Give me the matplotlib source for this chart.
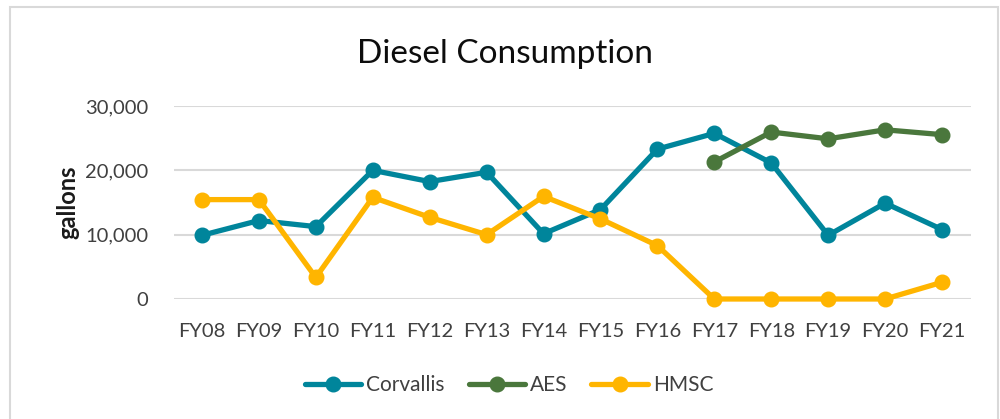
import matplotlib
matplotlib.use("Agg")
import matplotlib.pyplot as plt
from matplotlib.patches import Rectangle
from matplotlib.ticker import FuncFormatter
import numpy as np

years = ["FY08", "FY09", "FY10", "FY11", "FY12", "FY13", "FY14",
         "FY15", "FY16", "FY17", "FY18", "FY19", "FY20", "FY21"]
corvallis = [9900, 12200, 11250, 20000, 18250, 19700, 10150,
             13900, 23300, 25750, 21150, 9900, 14900, 10800]
aes = [None, None, None, None, None, None, None,
       None, None, 21300, 25950, 24900, 26300, 25550]
hmsc = [15450, 15450, 3350, 15800, 12700, 10000, 15950,
        12450, 8300, 0, 0, 0, 0, 2600]

series_names = ["Corvallis", "AES", "HMSC"]
series_colors = ["#00859B", "#4A773C", "#FFB500"]

plt.rcParams['font.family'] = ['Lato', 'DejaVu Sans']

fig = plt.figure(figsize=(10, 4.19), dpi=100)
ax = fig.add_axes([0.1735, 0.2864, 0.797, 0.4606])

x = np.arange(len(years))
for name, vals, col in zip(series_names, [corvallis, aes, hmsc], series_colors):
    y = np.array([np.nan if v is None else v for v in vals], dtype=float)
    ax.plot(x, y, color=col, lw=3.8, marker='o', markersize=10.5,
            label=name, solid_capstyle='round', zorder=3, clip_on=False)

ax.set_xlim(-0.5, len(years) - 0.5)
ax.set_ylim(0, 30000)
ax.set_yticks([0, 10000, 20000, 30000])
ax.yaxis.set_major_formatter(FuncFormatter(lambda v, p: f"{int(v):,}"))
ax.set_xticks(x)
ax.set_xticklabels(years)
ax.grid(axis='y', color='#D9D9D9', lw=1.5, zorder=0)
ax.set_axisbelow(True)
for s in ax.spines.values():
    s.set_visible(False)
ax.tick_params(axis='both', length=0, labelsize=14.5, colors='#404040')
ax.tick_params(axis='y', pad=18)
ax.tick_params(axis='x', pad=17.5)

ax.set_ylabel("gallons", fontsize=17, fontweight='bold', color='#1A1A1A', labelpad=4)

fig.text(0.505, 0.872, "Diesel Consumption", ha='center', va='center',
         fontsize=24, color='#0D0D0D')

fig.legend(loc='center', bbox_to_anchor=(0.509, 0.08), ncol=3,
           frameon=False, fontsize=15, handlelength=2.7,
           columnspacing=1.15, handletextpad=0.25, labelcolor='#404040')

fig.patches.append(Rectangle((10 / 1000, -0.05), 988 / 1000, 1 - 7 / 419 + 0.05,
                             transform=fig.transFigure, fill=False,
                             edgecolor='#D9D9D9', lw=1.5))

fig.savefig("out.png", dpi=100)
